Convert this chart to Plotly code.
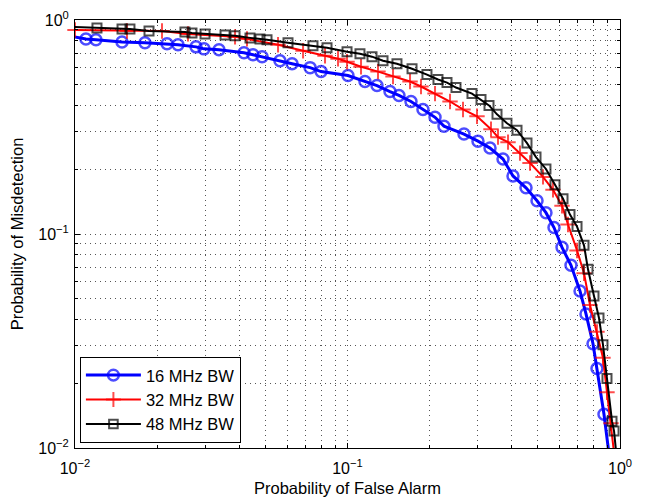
import plotly.graph_objects as go

# ROC curves (Pfa, Pmd)
pfa_16 = [0.0099, 0.01097, 0.01194, 0.01488, 0.01806, 0.02176, 0.02388, 0.0278, 0.02975, 0.03376,
          0.0417, 0.0450, 0.0486, 0.0565, 0.0626, 0.0729, 0.0800, 0.1004, 0.1159, 0.1283,
          0.1432, 0.1545, 0.1710, 0.1892, 0.2095, 0.2260, 0.2676, 0.3012, 0.3334, 0.3721,
          0.4049, 0.4519, 0.4960, 0.5349, 0.5726, 0.6126, 0.6610, 0.7134, 0.7503, 0.7960,
          0.8232, 0.8735, 0.915]
pmd_16 = [0.834, 0.816, 0.808, 0.790, 0.782, 0.774, 0.766, 0.749, 0.733, 0.726,
          0.703, 0.688, 0.674, 0.645, 0.625, 0.599, 0.574, 0.550, 0.516, 0.494,
          0.463, 0.444, 0.416, 0.382, 0.351, 0.319, 0.293, 0.2716, 0.252, 0.224,
          0.1868, 0.1643, 0.1430, 0.1258, 0.1072, 0.0866, 0.0714, 0.0541, 0.0423, 0.0307,
          0.0235, 0.01438, 0.009]

pfa_32 = [0.0100, 0.01552, 0.02086, 0.02598, 0.03866, 0.04278, 0.0556, 0.0687, 0.0827, 0.0923,
          0.0996, 0.1121, 0.1294, 0.1469, 0.1696, 0.1861, 0.2095, 0.2378, 0.2654, 0.2987,
          0.3362, 0.3567, 0.3882, 0.4295, 0.4675, 0.5218, 0.5677, 0.6126, 0.6444, 0.6955,
          0.7378, 0.7761, 0.8232, 0.866, 0.8959, 0.9269, 0.951]
pmd_32 = [0.899, 0.889, 0.889, 0.861, 0.834, 0.816, 0.766, 0.718, 0.681, 0.659,
          0.638, 0.605, 0.574, 0.544, 0.516, 0.489, 0.453, 0.416, 0.382, 0.355,
          0.309, 0.2835, 0.2687, 0.2388, 0.2147, 0.1849, 0.1609, 0.1356, 0.1107, 0.0838,
          0.0656, 0.0466, 0.0349, 0.0264, 0.0182, 0.01306, 0.0095]

pfa_48 = [0.0095, 0.01204, 0.01488, 0.01591, 0.01869, 0.02532, 0.02687, 0.03001, 0.03553, 0.03866,
          0.04387, 0.04774, 0.05065, 0.06049, 0.0747, 0.0841, 0.0996, 0.1111, 0.1230, 0.1350,
          0.1519, 0.1725, 0.1957, 0.2148, 0.2318, 0.2501, 0.2863, 0.3090, 0.3306, 0.3537,
          0.3848, 0.4188, 0.4557, 0.4918, 0.5349, 0.5774, 0.6178, 0.6553, 0.6955, 0.7378,
          0.7631, 0.8027, 0.8373, 0.866, 0.8959, 0.9346, 0.951, 0.97]
pmd_48 = [0.93, 0.918, 0.908, 0.908, 0.889, 0.880, 0.870, 0.861, 0.852, 0.843,
          0.825, 0.816, 0.808, 0.782, 0.758, 0.742, 0.710, 0.695, 0.674, 0.645,
          0.625, 0.592, 0.556, 0.527, 0.510, 0.4835, 0.453, 0.4253, 0.399, 0.3623,
          0.3292, 0.3054, 0.2659, 0.2289, 0.2013, 0.1697, 0.1461, 0.1232, 0.1083, 0.0885,
          0.0684, 0.0513, 0.0405, 0.0304, 0.0211, 0.01334, 0.0120, 0.0093]

series = [
    ("16 MHz BW", pfa_16, pmd_16, "#0000ff", "circle-open", 11, 3, 2.5),
    ("32 MHz BW", pfa_32, pmd_32, "#ff0000", "cross-thin-open", 11, 2, 2),
    ("48 MHz BW", pfa_48, pmd_48, "#000000", "square-open", 9, 2, 2),
]

fig = go.Figure()
for name, xs, ys, color, symbol, msize, lw, mlw in series:
    # points outside the axes keep the line going but show no marker
    sizes = [msize if (x >= 0.0099 and y >= 0.01) else 0 for x, y in zip(xs, ys)]
    fig.add_trace(go.Scatter(
        x=xs, y=ys, mode="lines+markers", name=name, cliponaxis=False,
        line=dict(color=color, width=lw),
        marker=dict(symbol=symbol, size=sizes, color=color,
                    line=dict(color=color, width=mlw)),
    ))

minor_vals = [m * 10 ** e for e in (-2, -1) for m in range(2, 10)]
tick_vals = [0.01, 0.1, 1]
tick_text = ["10<sup>−2</sup>", "10<sup>−1</sup>", "10<sup>0</sup>"]

axis_style = dict(
    type="log", tickvals=tick_vals, ticktext=tick_text, automargin=False,
    ticklabeloverflow="allow",
    showline=True, linecolor="black", linewidth=1, mirror="allticks",
    ticks="inside", ticklen=5, tickcolor="black",
    showgrid=True, gridcolor="#555", griddash="1px,4px", gridwidth=1,
    zeroline=False,
    minor=dict(tickvals=minor_vals, ticks="inside", ticklen=3, tickcolor="black",
               showgrid=True, gridcolor="#555", griddash="1px,4px", gridwidth=1),
    tickfont=dict(size=16, color="black"),
)

fig.update_xaxes(range=[-2, 0], ticklabelstandoff=6,
                 title=dict(text="Probability of False Alarm", standoff=6,
                            font=dict(size=16.5, color="black")),
                 **axis_style)
fig.update_yaxes(range=[-2, 0], ticklabelstandoff=2,
                 title=dict(text="Probability of Misdetection", standoff=11,
                            font=dict(size=16.5, color="black")),
                 **axis_style)

# the page body adds an 8px offset, so the figure is drawn 8px smaller
fig.update_layout(
    width=643, height=491,
    margin=dict(l=67, r=31, t=12, b=51, autoexpand=False),
    paper_bgcolor="white", plot_bgcolor="white",
    font=dict(family="Liberation Sans, Arial, sans-serif", color="black"),
    legend=dict(x=0.009, y=0.012, xanchor="left", yanchor="bottom",
                bgcolor="white", bordercolor="black", borderwidth=1,
                font=dict(size=16.5), itemwidth=55, tracegroupgap=0),
)

fig.write_html("out.html")
